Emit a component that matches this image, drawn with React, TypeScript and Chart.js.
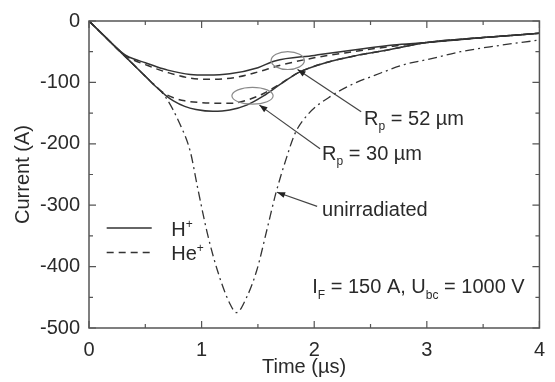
import React, { useEffect, useRef } from "react";
import { Chart, registerables } from "chart.js";

Chart.register(...registerables);

// ---- Data (time in µs, current in A) ----
const tH52 = [0, 0.15, 0.25, 0.32, 0.4, 0.5, 0.6, 0.7, 0.9, 1.05, 1.25, 1.5, 1.65, 2.0, 2.4, 2.7, 3.0, 3.5, 4.0];
const iH52 = [0, -27, -45, -55, -62, -68, -74.5, -80, -87, -88, -86, -76, -65, -56, -46, -39, -35, -27, -20];

const tHe52 = [0, 0.15, 0.25, 0.32, 0.4, 0.5, 0.6, 0.7, 0.9, 1.1, 1.3, 1.5, 1.7, 2.0, 2.35, 2.7, 3.0, 3.5, 4.0];
const iHe52 = [0, -27, -45, -56, -64, -71, -78, -84, -93, -95, -92, -83, -72, -60, -50, -41, -35, -27, -20];

const tH30 = [0, 0.15, 0.3, 0.5, 0.6, 0.68, 0.75, 0.85, 0.95, 1.1, 1.25, 1.4, 1.55, 1.7, 1.86, 2.1, 2.38, 2.6, 3.0, 3.5, 4.0];
const iH30 = [0, -27, -54, -90, -108, -121, -130, -139, -144, -147, -145, -137, -122, -103, -84, -68, -56, -49, -35, -27, -20];

const tHe30 = [0, 0.15, 0.3, 0.5, 0.6, 0.68, 0.75, 0.85, 1.0, 1.15, 1.27, 1.4, 1.55, 1.7, 1.86, 2.1, 2.38, 2.6, 3.0, 3.5, 4.0];
const iHe30 = [0, -27, -54, -90, -108, -119, -125, -130, -133, -134, -134, -129, -118, -102, -84, -68, -56, -49, -35, -27, -20];

const tUn = [0, 0.15, 0.3, 0.5, 0.68, 0.8, 0.9, 0.965, 1.05, 1.14, 1.25, 1.31, 1.4, 1.49, 1.58, 1.66, 1.75, 1.83, 1.95, 2.16, 2.35, 2.53, 2.8, 3.0, 3.3, 3.6, 4.0];
const iUn = [0, -27, -54, -90, -124, -165, -213, -272, -345, -406, -460, -475, -450, -406, -340, -280, -225, -183, -151, -121, -102, -89, -71, -63, -50, -41, -31];

const xMajorTicks = [0, 1, 2, 3, 4];
const xMinorTicks = [0.5, 1.5, 2.5, 3.5];
const yMajorTicks = [0, -100, -200, -300, -400, -500];
const yMinorTicks = [-50, -150, -250, -350, -450];

const FONT = '"Liberation Sans", Arial, Helvetica, sans-serif';
const INK = "#2a2a2a";
const LINE = "#333333";

const toPts = (t: number[], v: number[]) => t.map((x, i) => ({ x, y: v[i] }));

type Part = { t: string; sub?: boolean; sup?: boolean };

function drawRich(ctx: CanvasRenderingContext2D, parts: Part[], x: number, y: number, size: number) {
  let cx = x;
  ctx.textAlign = "left";
  ctx.textBaseline = "alphabetic";
  for (const p of parts) {
    const s = p.sub || p.sup ? Math.round(size * 0.62) : size;
    ctx.font = `${s}px ${FONT}`;
    const dy = p.sub ? size * 0.28 : p.sup ? -size * 0.42 : 0;
    ctx.fillText(p.t, cx, y + dy);
    cx += ctx.measureText(p.t).width;
  }
}

const overlay = {
  id: "overlay",
  afterDraw(chart: any) {
    const { ctx, chartArea: a, scales } = chart;
    const xs = scales.x;
    const ys = scales.y;
    const px = (v: number) => xs.getPixelForValue(v);
    const py = (v: number) => ys.getPixelForValue(v);
    ctx.save();

    // frame
    ctx.strokeStyle = "#555";
    ctx.lineWidth = 1.5;
    ctx.strokeRect(a.left, a.top, a.right - a.left, a.bottom - a.top);

    // inward ticks on all four sides
    ctx.lineWidth = 1.2;
    const tickX = (v: number, len: number) => {
      const X = px(v);
      ctx.beginPath();
      ctx.moveTo(X, a.bottom);
      ctx.lineTo(X, a.bottom - len);
      ctx.moveTo(X, a.top);
      ctx.lineTo(X, a.top + len);
      ctx.stroke();
    };
    const tickY = (v: number, len: number) => {
      const Y = py(v);
      ctx.beginPath();
      ctx.moveTo(a.left, Y);
      ctx.lineTo(a.left + len, Y);
      ctx.moveTo(a.right, Y);
      ctx.lineTo(a.right - len, Y);
      ctx.stroke();
    };
    xMajorTicks.forEach((v) => tickX(v, 7));
    xMinorTicks.forEach((v) => tickX(v, 4));
    yMajorTicks.forEach((v) => tickY(v, 7));
    yMinorTicks.forEach((v) => tickY(v, 4));

    // axis titles
    ctx.fillStyle = INK;
    ctx.font = `20px ${FONT}`;
    ctx.textAlign = "center";
    ctx.textBaseline = "middle";
    ctx.fillText("Time (µs)", px(1.91), a.bottom + 39);
    ctx.save();
    ctx.translate(23, py(-250));
    ctx.rotate(-Math.PI / 2);
    ctx.fillText("Current (A)", 0, 0);
    ctx.restore();

    // ellipses
    ctx.strokeStyle = "#8a8a8a";
    ctx.lineWidth = 1.2;
    const ell = (cx: number, cy: number, rx: number, ry: number) => {
      const X = px(cx), Y = py(cy);
      const RX = px(cx + rx) - X, RY = py(cy - ry) - Y;
      ctx.beginPath();
      ctx.ellipse(X, Y, Math.abs(RX), Math.abs(RY), 0, 0, Math.PI * 2);
      ctx.stroke();
    };
    ell(1.765, -64.5, 0.148, 14.5);
    ell(1.452, -121.8, 0.183, 13.7);

    // arrows
    ctx.strokeStyle = "#444";
    ctx.fillStyle = "#222";
    ctx.lineWidth = 1.2;
    const arrow = (x0: number, y0: number, x1: number, y1: number) => {
      const X0 = px(x0), Y0 = py(y0), X1 = px(x1), Y1 = py(y1);
      ctx.beginPath();
      ctx.moveTo(X0, Y0);
      ctx.lineTo(X1, Y1);
      ctx.stroke();
      const ang = Math.atan2(Y1 - Y0, X1 - X0);
      const L = 8, W = 3;
      ctx.beginPath();
      ctx.moveTo(X1, Y1);
      ctx.lineTo(X1 - L * Math.cos(ang) + W * Math.sin(ang), Y1 - L * Math.sin(ang) - W * Math.cos(ang));
      ctx.lineTo(X1 - L * Math.cos(ang) - W * Math.sin(ang), Y1 - L * Math.sin(ang) + W * Math.cos(ang));
      ctx.closePath();
      ctx.fill();
    };
    arrow(2.417, -148, 1.852, -79);
    arrow(2.052, -208, 1.513, -137);
    arrow(2.026, -302, 1.67, -279);

    // texts
    ctx.fillStyle = INK;
    const S = 20;
    drawRich(ctx, [{ t: "R" }, { t: "p", sub: true }, { t: " = 52 µm" }], px(2.443), py(-169), S);
    drawRich(ctx, [{ t: "R" }, { t: "p", sub: true }, { t: " = 30 µm" }], px(2.07), py(-226), S);
    drawRich(ctx, [{ t: "unirradiated" }], px(2.07), py(-318), S);
    drawRich(
      ctx,
      [{ t: "I" }, { t: "F", sub: true }, { t: " = 150 A, U" }, { t: "bc", sub: true }, { t: " = 1000 V" }],
      px(1.983),
      py(-443),
      S
    );

    // legend
    ctx.strokeStyle = LINE;
    ctx.lineWidth = 1.5;
    ctx.beginPath();
    ctx.moveTo(px(0.157), py(-337));
    ctx.lineTo(px(0.557), py(-337));
    ctx.stroke();
    ctx.setLineDash([7, 5]);
    ctx.beginPath();
    ctx.moveTo(px(0.157), py(-377));
    ctx.lineTo(px(0.557), py(-377));
    ctx.stroke();
    ctx.setLineDash([]);
    drawRich(ctx, [{ t: "H" }, { t: "+", sup: true }], px(0.73), py(-350), S);
    drawRich(ctx, [{ t: "He" }, { t: "+", sup: true }], px(0.73), py(-390), S);

    ctx.restore();
  },
};

export default function App() {
  const ref = useRef<HTMLCanvasElement | null>(null);
  useEffect(() => {
    if (!ref.current) return;
    const common = {
      borderColor: LINE,
      borderWidth: 1.5,
      pointRadius: 0,
      showLine: true,
      fill: false,
      cubicInterpolationMode: "monotone" as const,
    };
    const chart = new Chart(ref.current, {
      type: "scatter",
      data: {
        datasets: [
          { ...common, label: "H+ 52", data: toPts(tH52, iH52) },
          { ...common, label: "He+ 52", data: toPts(tHe52, iHe52), borderDash: [7, 5] },
          { ...common, label: "H+ 30", data: toPts(tH30, iH30) },
          { ...common, label: "He+ 30", data: toPts(tHe30, iHe30), borderDash: [7, 5] },
          { ...common, label: "unirradiated", data: toPts(tUn, iUn), borderWidth: 1.3, borderDash: [9, 4, 2, 4] },
        ],
      },
      options: {
        responsive: false,
        animation: false,
        devicePixelRatio: 1,
        layout: { padding: { left: 0, right: 6, top: 18, bottom: 0 } },
        plugins: { legend: { display: false }, tooltip: { enabled: false }, title: { display: false } },
        scales: {
          x: {
            type: "linear",
            min: 0,
            max: 4,
            afterFit: (s: any) => {
              s.height = 54;
            },
            grid: { display: false, drawTicks: false },
            border: { display: false },
            ticks: {
              stepSize: 1,
              padding: 10,
              color: INK,
              font: { family: FONT, size: 20 },
              maxRotation: 0,
            },
          },
          y: {
            type: "linear",
            min: -500,
            max: 0,
            afterFit: (s: any) => {
              s.width = 89;
            },
            grid: { display: false, drawTicks: false },
            border: { display: false },
            ticks: {
              stepSize: 100,
              padding: 9,
              color: INK,
              font: { family: FONT, size: 20 },
            },
          },
        },
      },
      plugins: [overlay],
    });
    return () => chart.destroy();
  }, []);
  return (
    <div style={{ position: "absolute", left: 0, top: 0, width: 555, height: 382, background: "#fff" }}>
      <canvas ref={ref} width={555} height={382} style={{ display: "block" }} />
    </div>
  );
}
